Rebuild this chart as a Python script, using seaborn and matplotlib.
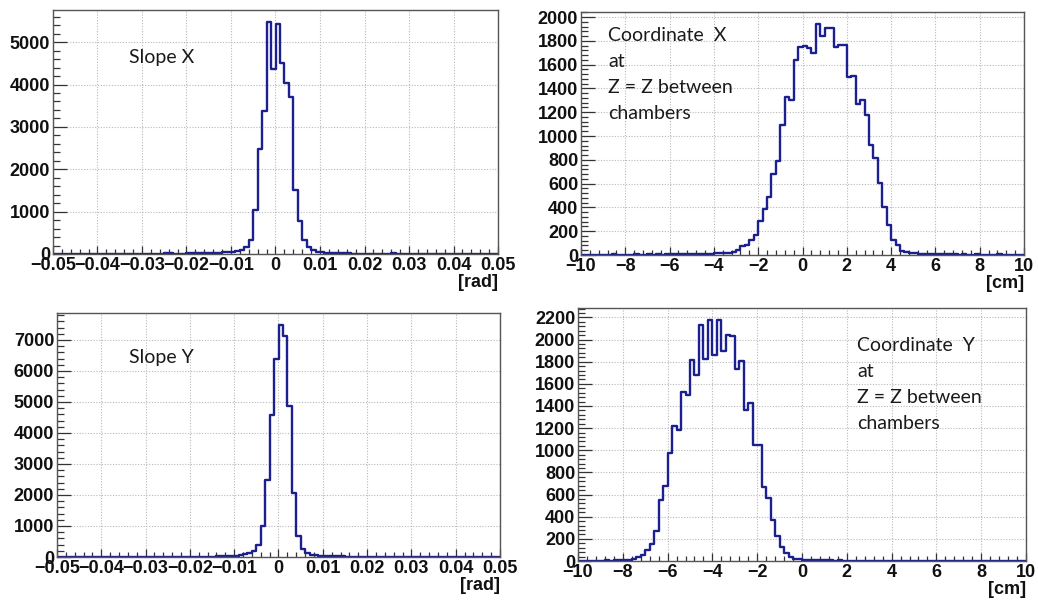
import numpy as np
import pandas as pd
import matplotlib
matplotlib.use("Agg")
import matplotlib.pyplot as plt
from matplotlib.ticker import MultipleLocator, FuncFormatter
import seaborn as sns

# ---- histogram contents (100 bins each) ----
slope_range = (-0.05, 0.05)
coord_range = (-10.0, 10.0)
n_bins = 100

slope_x_counts = [
    0, 1, 0, 2, 1, 0, 1, 2, 1, 0,
    1, 2, 1, 3, 2, 1, 2, 3, 2, 4,
    5, 6, 5, 7, 8, 15, 12, 9, 10, 11,
    12, 14, 15, 17, 20, 22, 25, 30, 36, 42,
    48, 60, 86, 170, 330, 1045, 2490, 3380, 5485, 4366,
    5430, 4500, 4030, 3695, 1510, 785, 330, 165, 90, 58,
    42, 32, 26, 22, 18, 15, 12, 10, 9, 8,
    7, 6, 6, 5, 5, 8, 12, 6, 5, 4,
    4, 3, 3, 2, 3, 2, 2, 1, 2, 1,
    1, 2, 1, 0, 1, 1, 0, 1, 0, 1,
]

slope_y_counts = [
    1, 0, 2, 1, 3, 1, 2, 0, 1, 2,
    2, 1, 3, 2, 1, 3, 2, 4, 3, 2,
    4, 3, 5, 4, 6, 5, 7, 6, 8, 9,
    10, 12, 11, 13, 15, 16, 18, 22, 26, 32,
    45, 60, 88, 140, 193, 380, 1010, 2470, 4572, 6395,
    7495, 7115, 4880, 2075, 675, 265, 140, 78, 50, 38,
    30, 25, 22, 20, 18, 16, 14, 12, 11, 10,
    9, 8, 8, 7, 7, 9, 10, 7, 6, 5,
    5, 4, 4, 3, 4, 3, 2, 3, 2, 2,
    1, 2, 1, 1, 0, 1, 1, 0, 1, 0,
]

coord_x_counts = [
    2, 1, 3, 2, 4, 3, 2, 5, 3, 2,
    4, 3, 5, 2, 4, 6, 3, 5, 4, 6,
    5, 7, 6, 8, 7, 9, 8, 10, 9, 12,
    13, 15, 17, 20, 28, 45, 72, 86, 122, 167,
    289, 389, 490, 679, 793, 1096, 1332, 1305, 1641, 1747,
    1755, 1741, 1700, 1945, 1844, 1905, 1908, 1750, 1769, 1761,
    1497, 1505, 1268, 1302, 1177, 921, 815, 606, 400, 250,
    125, 84, 36, 22, 17, 15, 12, 10, 9, 8,
    7, 6, 7, 5, 6, 4, 5, 3, 4, 6,
    3, 4, 2, 3, 5, 3, 2, 4, 2, 3,
]

coord_y_counts = [
    2, 3, 1, 4, 2, 3, 5, 4, 6, 5,
    8, 10, 15, 33, 54, 99, 158, 271, 548, 674,
    972, 1222, 1186, 1529, 1496, 1815, 1676, 2131, 1824, 2176,
    1860, 2176, 1896, 2040, 2034, 1730, 1806, 1363, 1430, 1047,
    1047, 670, 566, 373, 223, 122, 72, 33, 20, 15,
    10, 9, 8, 7, 6, 5, 6, 4, 5, 3,
    4, 3, 2, 4, 3, 2, 3, 2, 4, 3,
    2, 3, 2, 1, 3, 2, 4, 2, 1, 2,
    3, 1, 2, 2, 1, 3, 2, 1, 2, 1,
    2, 1, 1, 3, 1, 2, 1, 2, 1, 1,
]

x_units = ["[rad]", "[rad]", "[cm]", "[cm]"]
panel_notes = [
    ["Slope X"],
    ["Slope Y"],
    ["Coordinate  X", "at", "Z = Z between", "chambers"],
    ["Coordinate  Y", "at", "Z = Z between", "chambers"],
]

# ---- styling ----
sns.set_style("white")
plt.rcParams["font.family"] = ["Liberation Sans", "DejaVu Sans"]
plt.rcParams["font.weight"] = "bold"
plt.rcParams["axes.unicode_minus"] = True

LINE = "#1b1f8f"
FRAME = "#555555"
GRID = "#b8b8b8"
LABEL_SIZE = 13

W, H = 1038, 601
fig = plt.figure(figsize=(W / 100, H / 100), dpi=100)
fig.patch.set_facecolor("white")


def px_axes(x0, y0, x1, y1):
    """Axes from pixel box (left, top, right, bottom)."""
    return fig.add_axes([x0 / W, (H - y1) / H, (x1 - x0) / W, (y1 - y0) / H])


def fmt_tick(v, _pos):
    v = round(v, 6)
    if abs(v) < 1e-9:
        return "0"
    s = f"{v:g}"
    return s.replace("-", "\u2212")


panels = [
    dict(box=(53, 10, 498, 254), counts=slope_x_counts, rng=slope_range,
         xmaj=0.01, xmin=0.002, ymaj=1000, ymin=200,
         unit=x_units[0], note=panel_notes[0], note_xy=(0.171, 0.807)),
    dict(box=(581, 12, 1024, 255), counts=coord_x_counts, rng=coord_range,
         xmaj=2, xmin=0.4, ymaj=200, ymin=40,
         unit=x_units[2], note=panel_notes[2], note_xy=(0.061, 0.905)),
    dict(box=(57, 313, 500, 557), counts=slope_y_counts, rng=slope_range,
         xmaj=0.01, xmin=0.002, ymaj=1000, ymin=200,
         unit=x_units[1], note=panel_notes[1], note_xy=(0.163, 0.816)),
    dict(box=(578, 308, 1026, 561), counts=coord_y_counts, rng=coord_range,
         xmaj=2, xmin=0.4, ymaj=200, ymin=40,
         unit=x_units[3], note=panel_notes[3], note_xy=(0.623, 0.851)),
]

for p in panels:
    ax = px_axes(*p["box"])
    lo, hi = p["rng"]
    width = (hi - lo) / n_bins
    centers = lo + width * (np.arange(n_bins) + 0.5)
    df = pd.DataFrame({"x": centers, "n": p["counts"]})

    ax.set_axisbelow(True)
    sns.histplot(data=df, x="x", weights="n", bins=n_bins, binrange=(lo, hi),
                 element="step", fill=False, color=LINE, linewidth=1.7, ax=ax)

    ax.set_xlim(lo, hi)
    ax.set_ylim(0, 1.05 * max(p["counts"]))

    ax.xaxis.set_major_locator(MultipleLocator(p["xmaj"]))
    ax.xaxis.set_minor_locator(MultipleLocator(p["xmin"]))
    ax.yaxis.set_major_locator(MultipleLocator(p["ymaj"]))
    ax.yaxis.set_minor_locator(MultipleLocator(p["ymin"]))
    ax.xaxis.set_major_formatter(FuncFormatter(fmt_tick))
    ax.yaxis.set_major_formatter(FuncFormatter(fmt_tick))

    ax.grid(True, which="major", color=GRID, linestyle=(0, (1, 1.5)), linewidth=0.8)

    for side in ("top", "right", "bottom", "left"):
        ax.spines[side].set_visible(True)
        ax.spines[side].set_color(FRAME)
        ax.spines[side].set_linewidth(1.0)

    ax.tick_params(axis="both", which="both", direction="in", color="#333333",
                   labelcolor="#111111", labelsize=LABEL_SIZE,
                   bottom=True, left=True, top=False, right=False, width=0.9)
    ax.tick_params(axis="x", which="major", length=6, pad=2)
    ax.tick_params(axis="x", which="minor", length=3.5)
    ax.tick_params(axis="y", which="major", length=10, pad=2)
    ax.tick_params(axis="y", which="minor", length=5)

    ax.set_ylabel("")
    ax.set_xlabel(p["unit"], loc="right", fontsize=LABEL_SIZE, fontweight="bold",
                  color="#111111", labelpad=0)

    # annotation text inside the frame
    tx, ty = p["note_xy"]
    box_h = p["box"][3] - p["box"][1]
    step = 26 / box_h
    for k, line in enumerate(p["note"]):
        ax.text(tx, ty - k * step, line, transform=ax.transAxes,
                fontsize=14, family=["Lato", "DejaVu Sans"], fontweight="normal",
                color="#1a1a1a", ha="left", va="center")

fig.savefig("out.png", dpi=100, facecolor="white")
